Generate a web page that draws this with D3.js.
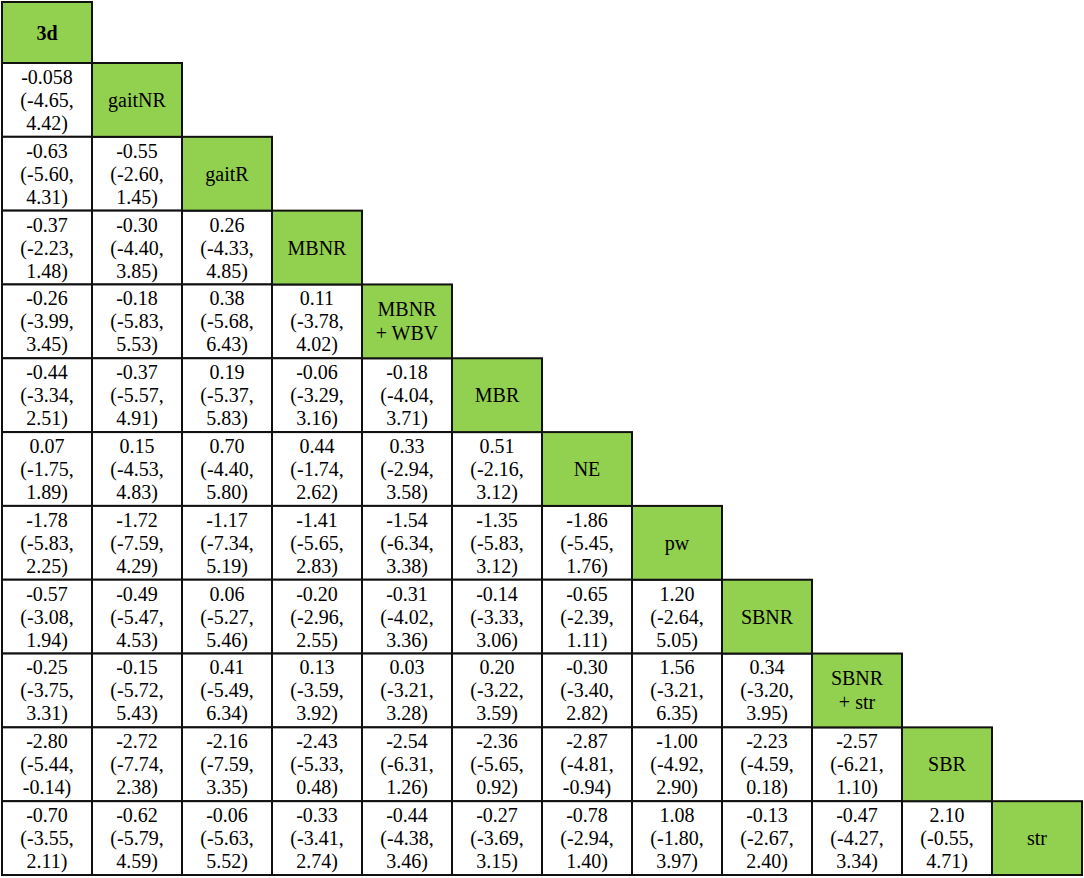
<!DOCTYPE html>
<html>
<head>
<meta charset="utf-8">
<script src="https://cdn.jsdelivr.net/npm/d3@7"></script>
<style>
  html, body { margin: 0; padding: 0; background: #fff; }
  svg { display: block; }
  text { font-family: "Liberation Serif", "Times New Roman", serif; fill: #000; }
</style>
</head>
<body>
<div id="chart"></div>
<script>
// Treatments along the diagonal
const labels = ['3d', 'gaitNR', 'gaitR', 'MBNR', 'MBNR + WBV', 'MBR', 'NE', 'pw', 'SBNR', 'SBNR + str', 'SBR', 'str'];

// Lower triangle: estimate, lower bound, upper bound (row i, col j < i)
const estimates = [
  [],
  [-0.058],
  [-0.63, -0.55],
  [-0.37, -0.30, 0.26],
  [-0.26, -0.18, 0.38, 0.11],
  [-0.44, -0.37, 0.19, -0.06, -0.18],
  [0.07, 0.15, 0.70, 0.44, 0.33, 0.51],
  [-1.78, -1.72, -1.17, -1.41, -1.54, -1.35, -1.86],
  [-0.57, -0.49, 0.06, -0.20, -0.31, -0.14, -0.65, 1.20],
  [-0.25, -0.15, 0.41, 0.13, 0.03, 0.20, -0.30, 1.56, 0.34],
  [-2.80, -2.72, -2.16, -2.43, -2.54, -2.36, -2.87, -1.00, -2.23, -2.57],
  [-0.70, -0.62, -0.06, -0.33, -0.44, -0.27, -0.78, 1.08, -0.13, -0.47, 2.10]
];
const lowerCI = [
  [],
  [-4.65],
  [-5.60, -2.60],
  [-2.23, -4.40, -4.33],
  [-3.99, -5.83, -5.68, -3.78],
  [-3.34, -5.57, -5.37, -3.29, -4.04],
  [-1.75, -4.53, -4.40, -1.74, -2.94, -2.16],
  [-5.83, -7.59, -7.34, -5.65, -6.34, -5.83, -5.45],
  [-3.08, -5.47, -5.27, -2.96, -4.02, -3.33, -2.39, -2.64],
  [-3.75, -5.72, -5.49, -3.59, -3.21, -3.22, -3.40, -3.21, -3.20],
  [-5.44, -7.74, -7.59, -5.33, -6.31, -5.65, -4.81, -4.92, -4.59, -6.21],
  [-3.55, -5.79, -5.63, -3.41, -4.38, -3.69, -2.94, -1.80, -2.67, -4.27, -0.55]
];
const upperCI = [
  [],
  [4.42],
  [4.31, 1.45],
  [1.48, 3.85, 4.85],
  [3.45, 5.53, 6.43, 4.02],
  [2.51, 4.91, 5.83, 3.16, 3.71],
  [1.89, 4.83, 5.80, 2.62, 3.58, 3.12],
  [2.25, 4.29, 5.19, 2.83, 3.38, 3.12, 1.76],
  [1.94, 4.53, 5.46, 2.55, 3.36, 3.06, 1.11, 5.05],
  [3.31, 5.43, 6.34, 3.92, 3.28, 3.59, 2.82, 6.35, 3.95],
  [-0.14, 2.38, 3.35, 0.48, 1.26, 0.92, -0.94, 2.90, 0.18, 1.10],
  [2.11, 4.59, 5.52, 2.74, 3.46, 3.15, 1.40, 3.97, 2.40, 3.34, 4.71]
];

(function main() {
  const width = 1084;
  const height = 878;
  const green = '#92d050';
  const fontSize = 20;
  const lineGap = 23;

  const svg = d3.select('#chart').append('svg')
    .attr('width', width)
    .attr('height', height)
    .attr('viewBox', `0 0 ${width} ${height}`);

  const n = labels.length;
  const x = d3.scaleBand().domain(d3.range(n)).range([2, 1082]);
  // first row is shorter; rows 1..n share equal height
  const yEdge = d3.scaleLinear().domain([1, n]).range([63, 875]);
  const rowTop = i => (i === 0 ? 2 : yEdge(i));
  const rowBottom = i => yEdge(i + 1);

  // keep at least two decimals, more if the value has them
  const fmt = v => {
    const dec = (String(v).split('.')[1] || '').length;
    return v.toFixed(Math.max(2, dec));
  };

  const cells = [];
  labels.forEach((lab, i) => {
    for (let j = 0; j < i; j++) {
      cells.push({ row: i, col: j, diag: false,
        lines: [fmt(estimates[i][j]), `(${fmt(lowerCI[i][j])},`, `${fmt(upperCI[i][j])})`] });
    }
    const parts = lab.includes(' + ') ? [lab.split(' + ')[0], '+ ' + lab.split(' + ')[1]] : [lab];
    cells.push({ row: i, col: i, diag: true, lines: parts });
  });

  // white cells first, diagonal on top
  cells.sort((a, b) => a.diag - b.diag);

  const g = svg.selectAll('g.cell').data(cells).enter()
    .append('g').attr('class', 'cell');

  g.append('rect')
    .attr('x', d => x(d.col))
    .attr('y', d => rowTop(d.row))
    .attr('width', x.bandwidth())
    .attr('height', d => rowBottom(d.row) - rowTop(d.row))
    .attr('fill', d => (d.diag ? green : '#fff'))
    .attr('stroke', '#111')
    .attr('stroke-width', 2);

  g.each(function(d) {
    const cx = x(d.col) + x.bandwidth() / 2;
    const mid = (rowTop(d.row) + rowBottom(d.row)) / 2;
    const k = d.lines.length;
    const gap = d.diag ? 24 : lineGap;
    d3.select(this).selectAll('text').data(d.lines).enter()
      .append('text')
      .attr('x', cx)
      .attr('y', (t, li) => mid + 7 + (li - (k - 1) / 2) * gap)
      .attr('text-anchor', 'middle')
      .style('font-size', `${fontSize}px`)
      .style('font-weight', d.row === 0 ? 'bold' : 'normal')
      .text(t => t);
  });
})();
</script>
</body>
</html>
